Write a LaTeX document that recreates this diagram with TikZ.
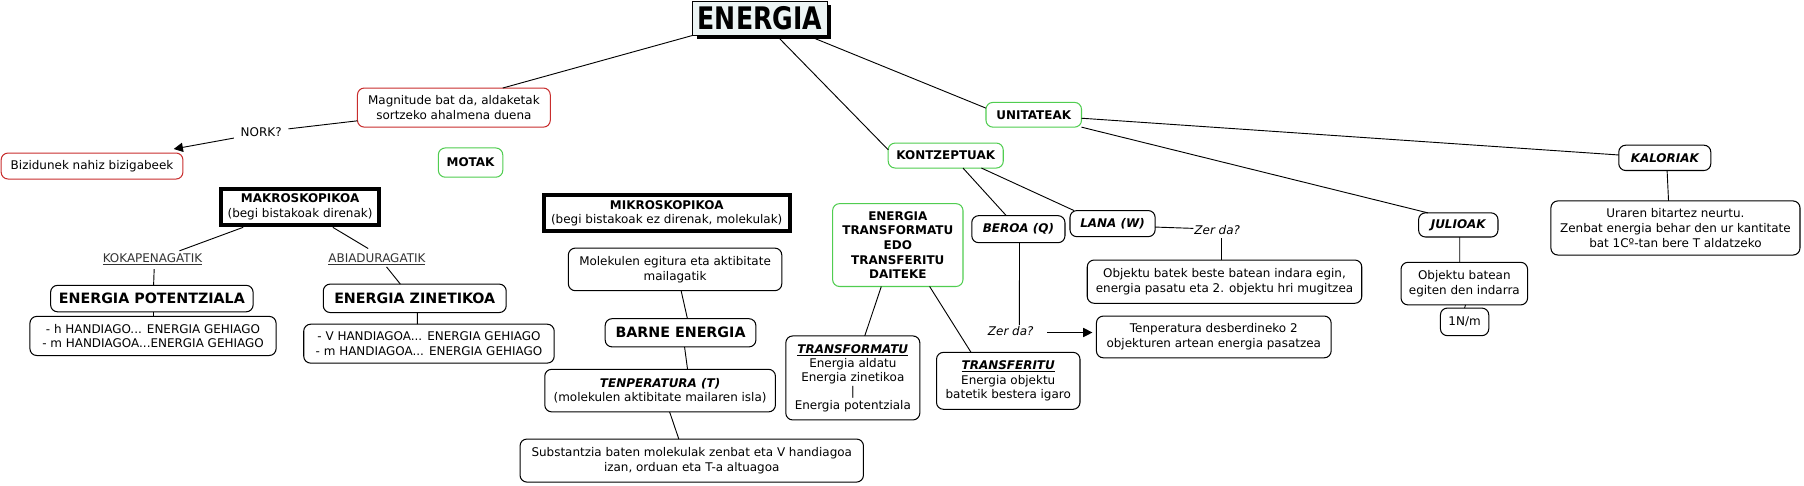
\documentclass[tikz,border=0pt]{standalone}
\usepackage{fontspec}
\setmainfont{DejaVu Sans}
\newfontfamily\titlefont[FakeStretch=0.81]{DejaVu Sans}
\usetikzlibrary{shadows,arrows.meta}
\definecolor{cmred}{RGB}{200,45,45}
\definecolor{cmgreen}{RGB}{80,205,80}
\definecolor{titlefill}{RGB}{236,244,244}
\tikzset{
  base/.style={font=\fontsize{10.4}{12.75}\selectfont, align=center, inner sep=0pt, outer sep=0pt},
  rbox/.style={base, draw=black, line width=0.9pt, rounded corners=6pt, fill=white},
  redbox/.style={rbox, draw=cmred},
  greenbox/.style={rbox, draw=cmgreen},
  thickbox/.style={base, draw=black, line width=3.5pt, fill=white},
  lbl/.style={base},
  bigbold/.style={font=\fontsize{12.4}{15}\selectfont\bfseries},
  conn/.style={draw=black, line width=0.8pt},
  arr/.style={conn, -{Triangle[length=8pt,width=8pt]}},
}
\begin{document}
\begin{tikzpicture}[x=1pt,y=-1pt]
\useasboundingbox (0,0) rectangle (1568,421.55);

% title
\node[draw=black, line width=0.8pt, fill=titlefill, inner sep=0pt, minimum width=117pt, minimum height=29.5pt,
      drop shadow={shadow xshift=3.5pt, shadow yshift=-3.5pt, fill=black, opacity=1},
      font=\titlefont\bfseries\fontsize{27}{30}\selectfont] (en) at (660.5,15.75) {ENERGIA};

% left branch
\node[redbox, minimum width=167.6pt, minimum height=34pt] (mag) at (394.5,93.5) {Magnitude bat da, aldaketak\\sortzeko ahalmena duena};
\node[lbl] (nork) at (227,114.5) {NORK?};
\node[redbox, minimum width=158pt, minimum height=22.6pt] (biz) at (80,144.3) {Bizidunek nahiz bizigabeek};
\node[greenbox, minimum width=56pt, minimum height=25.4pt, font=\fontsize{10.4}{12.75}\selectfont\bfseries] (mot) at (409,141.3) {MOTAK};

\node[thickbox, minimum width=137.5pt, minimum height=31.9pt] (mak) at (260.8,179.9) {\textbf{MAKROSKOPIKOA}\\(begi bistakoak direnak)};
\node[lbl, text=black!80] (kok) at (132.5,225.5) {\underline{KOKAPENAGATIK}};
\node[lbl, text=black!80] (abi) at (327.6,225.5) {\underline{ABIADURAGATIK}};
\node[rbox, bigbold, minimum width=176pt, minimum height=23pt] (ep) at (132,259.5) {ENERGIA POTENTZIALA};
\node[rbox, minimum width=214pt, minimum height=34pt] (hb) at (133,292) {- h HANDIAGO... ENERGIA GEHIAGO\\- m HANDIAGOA...ENERGIA GEHIAGO};
\node[rbox, bigbold, minimum width=159pt, minimum height=24.7pt] (ez) at (360.5,259.3) {ENERGIA ZINETIKOA};
\node[rbox, minimum width=217.7pt, minimum height=33.8pt] (vb) at (372.85,298.7) {- V HANDIAGOA... ENERGIA GEHIAGO\\- m HANDIAGOA... ENERGIA GEHIAGO};

% micro
\node[thickbox, minimum width=213.5pt, minimum height=31pt] (mik) at (579.5,185.25) {\textbf{MIKROSKOPIKOA}\\(begi bistakoak ez direnak, molekulak)};
\node[rbox, minimum width=185.5pt, minimum height=37pt] (mol) at (586.75,234.15) {Molekulen egitura eta aktibitate\\mailagatik};
\node[rbox, bigbold, minimum width=131pt, minimum height=24.5pt] (bar) at (591.5,289.25) {BARNE ENERGIA};
\node[rbox, minimum width=200.5pt, minimum height=37pt] (ten) at (573.75,339.5) {\textbf{\textit{TENPERATURA (T)}}\\(molekulen aktibitate mailaren isla)};
\node[rbox, minimum width=298.5pt, minimum height=37.4pt] (sub) at (601.25,400.3) {Substantzia baten molekulak zenbat eta V handiagoa\\izan, orduan eta T-a altuagoa};

% concepts
\node[greenbox, minimum width=100pt, minimum height=21.7pt, font=\fontsize{10.4}{12.75}\selectfont\bfseries] (kon) at (822,135.2) {KONTZEPTUAK};
\node[greenbox, minimum width=113.3pt, minimum height=72pt, font=\fontsize{10.4}{12.7}\selectfont\bfseries] (etr) at (780.35,213) {ENERGIA\\TRANSFORMATU\\EDO\\TRANSFERITU\\DAITEKE};
\node[rbox, minimum width=116.5pt, minimum height=73pt, font=\fontsize{10.4}{12.2}\selectfont] (tfm) at (741.25,328.5) {\underline{\textbf{\textit{TRANSFORMATU}}}\\Energia aldatu\\Energia zinetikoa\\|\\Energia potentziala};
\node[rbox, minimum width=124.7pt, minimum height=49.5pt] (tfr) at (876.35,331) {\underline{\textbf{\textit{TRANSFERITU}}}\\Energia objektu\\batetik bestera igaro};
\node[rbox, minimum width=81pt, minimum height=23.5pt, font=\fontsize{10.4}{12.75}\selectfont\bfseries\itshape] (ber) at (885.15,199.2) {BEROA (Q)};
\node[rbox, minimum width=74pt, minimum height=22.7pt, font=\fontsize{10.4}{12.75}\selectfont\bfseries\itshape] (lan) at (967,194.35) {LANA (W)};
\node[lbl, font=\fontsize{10.4}{12.75}\selectfont\itshape] (zer1) at (1058,200) {Zer da?};
\node[rbox, minimum width=238.6pt, minimum height=37.6pt] (obj1) at (1064.3,244.8) {Objektu batek beste batean indara egin,\\energia pasatu eta 2. objektu hri mugitzea};
\node[lbl, font=\fontsize{10.4}{12.75}\selectfont\itshape] (zer2) at (878.5,288) {Zer da?};
\node[rbox, minimum width=204pt, minimum height=36.3pt] (tdb) at (1055,292.85) {Tenperatura desberdineko 2\\objekturen artean energia pasatzea};

% units
\node[greenbox, minimum width=83pt, minimum height=21.5pt, font=\fontsize{10.4}{12.75}\selectfont\bfseries] (uni) at (898.5,99.75) {UNITATEAK};
\node[rbox, minimum width=69pt, minimum height=21pt, font=\fontsize{10.4}{12.75}\selectfont\bfseries\itshape] (jul) at (1267.5,195.5) {JULIOAK};
\node[rbox, minimum width=110pt, minimum height=37pt] (obj2) at (1272.75,246.5) {Objektu batean\\egiten den indarra};
\node[rbox, minimum width=42pt, minimum height=24pt] (nm) at (1273,279.75) {1N/m};
\node[rbox, minimum width=80pt, minimum height=22pt, font=\fontsize{10.4}{12.75}\selectfont\bfseries\itshape] (kal) at (1447,137.2) {KALORIAK};
\node[rbox, minimum width=216.5pt, minimum height=47pt] (ura) at (1456.25,198.15) {Uraren bitartez neurtu.\\Zenbat energia behar den ur kantitate\\bat 1Cº-tan bere T aldatzeko};

% connectors
\draw[conn] (en.south west) -- ([xshift=42.5pt]mag.north);
\draw[conn] ([xshift=14.5pt]en.south) -- ([yshift=5pt]kon.west);
\draw[conn] ([xshift=41.5pt]en.south) -- ([yshift=5.75pt]uni.west);
\draw[conn] ([yshift=-3pt]uni.east) -- ([yshift=2.5pt]kal.west);
\draw[conn] (uni.south east) -- ([xshift=8pt]jul.north west);
\draw[conn] ([xshift=2pt]kal.south) -- ([xshift=-6pt]ura.north);
\draw[conn] ([xshift=1.3pt]jul.south) -- ([xshift=-4pt]obj2.north);
\draw[conn] ([xshift=1pt]obj2.south) -- (nm.north);
\draw[conn] ([xshift=15pt]kon.south) -- ([xshift=-10.5pt]ber.north);
\draw[conn] ([xshift=31pt]kon.south) -- ([xshift=3.5pt]lan.north west);
\draw[conn] ([yshift=-3pt]lan.east) -- ([xshift=-1pt,yshift=1.5pt]zer1.west);
\draw[conn] ([xshift=4pt,yshift=-3pt]zer1.south) -- ([xshift=-2.3pt]obj1.north);
\draw[conn] ([xshift=1pt]ber.south) -- ([xshift=7.5pt,yshift=1.5pt]zer2.north);
\draw[arr] ([xshift=12pt,yshift=-1pt]zer2.east) -- ([xshift=-3.5pt,yshift=3.85pt]tdb.west);
\draw[conn] ([yshift=-11.5pt]mag.west) -- ([xshift=6pt,yshift=2.5pt]nork.east);
\draw[arr] ([xshift=-6pt,yshift=-5.5pt]nork.west) -- ([xshift=-8pt,yshift=3.5pt]biz.north east);
\draw[conn] ([xshift=-49.5pt,yshift=-1.75pt]mak.south) -- ([xshift=23.5pt,yshift=7.5pt]kok.center);
\draw[conn] ([xshift=28.5pt,yshift=-1.75pt]mak.south) -- ([xshift=-7.6pt,yshift=9.5pt]abi.center);
\draw[conn] ([xshift=1.5pt,yshift=-8.5pt]kok.center) -- ([xshift=1.5pt]ep.north);
\draw[conn] ([xshift=8.4pt,yshift=-6.5pt]abi.center) -- ([xshift=-12.5pt]ez.north);
\draw[conn] ([xshift=1.4pt]ep.south) -- ([xshift=0.4pt]hb.north);
\draw[conn] ([xshift=2.2pt]ez.south) -- ([xshift=-10.15pt]vb.north);
\draw[conn] ([xshift=5.25pt]mol.south) -- ([xshift=6pt]bar.north);
\draw[conn] ([xshift=3.5pt]bar.south) -- ([xshift=23.85pt]ten.north);
\draw[conn] ([xshift=8.25pt]ten.south) -- ([xshift=-11.25pt]sub.north);
\draw[conn] ([xshift=-14.35pt]etr.south) -- ([xshift=10.35pt]tfm.north);
\draw[conn] ([xshift=27.65pt]etr.south) -- ([xshift=-32.35pt]tfr.north);
\end{tikzpicture}
\end{document}
